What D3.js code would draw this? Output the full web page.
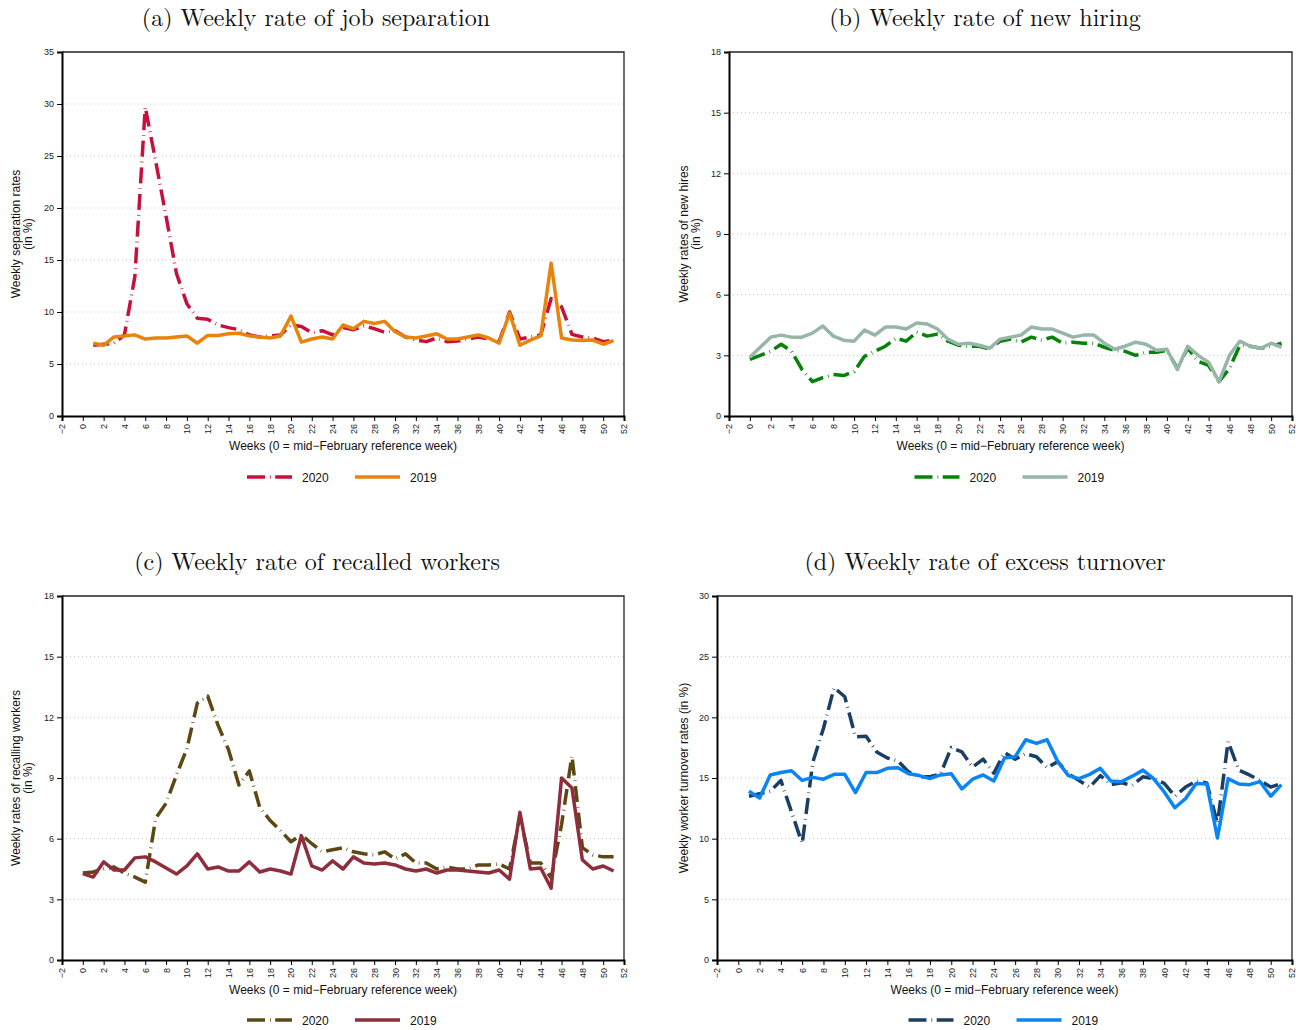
<!DOCTYPE html>
<html>
<head>
<meta charset="utf-8">
<script src="https://cdn.jsdelivr.net/npm/d3@7"></script>
<style>
  html, body { margin: 0; padding: 0; background: #fff; }
  svg { display: block; }
</style>
</head>
<body>
<svg id="chart" width="1302" height="1030"></svg>
<script>
// Weekly labour-market flows, 2020 vs 2019, by week since the mid-February reference week.

const xTickValues = [-2, 0, 2, 4, 6, 8, 10, 12, 14, 16, 18, 20, 22, 24, 26, 28, 30, 32, 34, 36, 38, 40, 42, 44, 46, 48, 50, 52];
const seriesYears = ["2020", "2019"];

// (a) separation rates, weeks 1-51
const sepStart = 1;
const separation2020 = [6.8, 6.9, 7.0, 7.8, 13.4, 29.7, 24.5, 19.2, 13.7, 10.8,
  9.4, 9.3, 8.75, 8.5, 8.3, 7.8, 7.6, 7.7, 7.8, 8.75,
  8.6, 8.0, 8.2, 7.8, 8.5, 8.3, 8.65, 8.4, 8.05, 8.2,
  7.6, 7.3, 7.15, 7.5, 7.15, 7.2, 7.4, 7.6, 7.4, 7.15,
  10.0, 7.4, 7.6, 7.8, 11.3, 10.5, 7.85, 7.6, 7.5, 7.15, 7.3];
const separation2019 = [7.0, 6.8, 7.6, 7.7, 7.8, 7.4, 7.5, 7.5, 7.6, 7.7,
  7.0, 7.75, 7.75, 7.9, 7.95, 7.7, 7.6, 7.5, 7.7, 9.6,
  7.1, 7.4, 7.6, 7.4, 8.75, 8.4, 9.1, 8.9, 9.1, 8.1,
  7.6, 7.5, 7.7, 7.9, 7.4, 7.4, 7.6, 7.8, 7.5, 7.0,
  9.9, 6.8, 7.3, 7.7, 14.7, 7.5, 7.3, 7.25, 7.3, 6.9, 7.25];
const separationTicks = [0, 5, 10, 15, 20, 25, 30, 35];

// (b) new hiring rates, weeks 0-51
const hireStart = 0;
const hiring2020 = [2.8, 3.0, 3.2, 3.55, 3.2, 2.3, 1.7, 1.9, 2.05, 2.0,
  2.2, 2.95, 3.2, 3.45, 3.85, 3.7, 4.15, 3.95, 4.05, 3.7,
  3.5, 3.45, 3.45, 3.3, 3.7, 3.8, 3.65, 3.9, 3.75, 3.9,
  3.6, 3.65, 3.6, 3.6, 3.4, 3.25, 3.2, 3.0, 3.15, 3.15,
  3.25, 2.35, 3.35, 2.7, 2.5, 1.7, 2.35, 3.5, 3.45, 3.35, 3.45, 3.6];
const hiring2019 = [2.9, 3.4, 3.9, 4.0, 3.9, 3.9, 4.1, 4.45, 3.95, 3.75,
  3.7, 4.25, 4.0, 4.4, 4.4, 4.3, 4.6, 4.55, 4.3, 3.8,
  3.55, 3.6, 3.5, 3.35, 3.8, 3.9, 4.0, 4.4, 4.3, 4.3,
  4.1, 3.9, 4.0, 4.0, 3.6, 3.3, 3.45, 3.65, 3.55, 3.25,
  3.3, 2.3, 3.45, 3.0, 2.65, 1.7, 3.0, 3.7, 3.45, 3.35, 3.6, 3.4];
const hiringTicks = [0, 3, 6, 9, 12, 15, 18];

// (c) recall rates, weeks 0-51
const recallStart = 0;
const recall2020 = [4.3, 4.35, 4.5, 4.6, 4.3, 4.1, 3.85, 7.0, 7.75, 9.15,
  10.45, 12.7, 13.05, 11.6, 10.4, 8.65, 9.35, 7.55, 6.9, 6.4,
  5.85, 6.2, 5.75, 5.35, 5.45, 5.55, 5.35, 5.25, 5.2, 5.35,
  5.0, 5.25, 4.8, 4.8, 4.5, 4.6, 4.5, 4.5, 4.7, 4.7,
  4.75, 4.5, 7.1, 4.8, 4.8, 4.05, 6.7, 10.1, 5.55, 5.2, 5.1, 5.1];
const recall2019 = [4.27, 4.1, 4.85, 4.45, 4.45, 5.05, 5.1, 4.85, 4.55, 4.25,
  4.65, 5.25, 4.5, 4.6, 4.4, 4.4, 4.85, 4.35, 4.5, 4.4,
  4.25, 6.15, 4.65, 4.45, 4.9, 4.5, 5.1, 4.8, 4.75, 4.8,
  4.7, 4.5, 4.4, 4.5, 4.3, 4.45, 4.45, 4.4, 4.35, 4.3,
  4.45, 4.0, 7.3, 4.5, 4.55, 3.55, 9.0, 8.5, 4.95, 4.5, 4.65, 4.4];
const recallTicks = [0, 3, 6, 9, 12, 15, 18];

// (d) excess turnover rates, weeks 1-51
const turnStart = 1;
const turnover2020 = [13.5, 13.7, 13.9, 14.8, 12.2, 9.6, 16.3, 19.1, 22.45, 21.7,
  18.4, 18.45, 17.15, 16.65, 16.4, 15.5, 15.1, 15.1, 15.35, 17.5,
  17.15, 15.9, 16.55, 15.4, 17.1, 16.55, 17.0, 16.75, 15.85, 16.35,
  15.35, 14.8, 14.25, 15.2, 14.45, 14.6, 14.4, 15.1, 14.95, 14.55,
  13.5, 14.25, 14.75, 14.6, 11.25, 18.0, 15.65, 15.25, 14.8, 14.25, 14.55];
const turnover2019 = [13.9, 13.35, 15.25, 15.45, 15.6, 14.8, 15.05, 14.9, 15.3, 15.3,
  13.8, 15.45, 15.45, 15.8, 15.85, 15.35, 15.2, 14.95, 15.25, 15.35,
  14.1, 14.9, 15.25, 14.75, 16.65, 16.75, 18.15, 17.85, 18.15, 16.35,
  15.2, 14.95, 15.3, 15.8, 14.75, 14.7, 15.15, 15.65, 14.95, 13.85,
  12.55, 13.3, 14.55, 14.5, 10.05, 14.95, 14.5, 14.45, 14.7, 13.5, 14.45];
const turnoverTicks = [0, 5, 10, 15, 20, 25, 30];

const toPoints = (start, values) => values.map((v, i) => ({ week: start + i, value: v }));

const panels = [
  {
    title: "(a) Weekly rate of job separation", titleX: 316, titleY: 26,
    box: { left: 62, right: 624, top: 52, bottom: 416 },
    yTicks: separationTicks, yLabel: ["Weekly separation rates", "(in %)"], yLabelX: [20, 32],
    series: [toPoints(sepStart, separation2020), toPoints(sepStart, separation2019)],
    colors: ["#c8103c", "#e8830c"], legendY: 477
  },
  {
    title: "(b) Weekly rate of new hiring", titleX: 985, titleY: 26,
    box: { left: 729, right: 1292, top: 52, bottom: 416 },
    yTicks: hiringTicks, yLabel: ["Weekly rates of new hires", "(in %)"], yLabelX: [688, 700],
    series: [toPoints(hireStart, hiring2020), toPoints(hireStart, hiring2019)],
    colors: ["#06820a", "#97b5a9"], legendY: 477
  },
  {
    title: "(c) Weekly rate of recalled workers", titleX: 317, titleY: 570,
    box: { left: 62, right: 624, top: 596, bottom: 960 },
    yTicks: recallTicks, yLabel: ["Weekly rates of recalling workers", "(in %)"], yLabelX: [20, 32],
    series: [toPoints(recallStart, recall2020), toPoints(recallStart, recall2019)],
    colors: ["#5b4812", "#8e2e3c"], legendY: 1020
  },
  {
    title: "(d) Weekly rate of excess turnover", titleX: 985, titleY: 570,
    box: { left: 717, right: 1292, top: 596, bottom: 960 },
    yTicks: turnoverTicks, yLabel: ["Weekly worker turnover rates (in %)"], yLabelX: [688],
    series: [toPoints(turnStart, turnover2020), toPoints(turnStart, turnover2019)],
    colors: ["#1b3f63", "#0b85f5"], legendY: 1020
  }
];

const svg = d3.select("#chart");
const sans = "'Liberation Sans', Arial, Helvetica, sans-serif";
const serif = "'Latin Modern Roman', 'CMU Serif', 'Liberation Serif', 'Times New Roman', serif";
const dash2020 = "16,5,0.7,5";
const lineWidth = 3.5;

panels.forEach(p => {
  const g = svg.append("g");
  const { left, right, top, bottom } = p.box;
  const yMax = p.yTicks[p.yTicks.length - 1];

  const x = d3.scaleLinear().domain([-2, 52]).range([left, right]);
  const y = d3.scaleLinear().domain([0, yMax]).range([bottom, top]);

  // title
  g.append("text")
    .attr("x", p.titleX).attr("y", p.titleY)
    .attr("text-anchor", "middle")
    .attr("font-family", serif)
    .attr("font-size", 24)
    .attr("fill", "#111")
    .text(p.title);

  // dotted horizontal grid
  g.append("g").selectAll("line")
    .data(p.yTicks.filter(t => t > 0 && t < yMax))
    .join("line")
    .attr("x1", left).attr("x2", right)
    .attr("y1", d => y(d)).attr("y2", d => y(d))
    .attr("stroke", "#c8c8c8")
    .attr("stroke-width", 1)
    .attr("stroke-dasharray", "1,3");

  // frame: top and right edges
  g.append("path")
    .attr("d", `M${left},${top}H${right}V${bottom}`)
    .attr("fill", "none")
    .attr("stroke", "#222")
    .attr("stroke-width", 1.3);

  // y axis
  const yAxis = g.append("g")
    .attr("transform", `translate(${left},0)`)
    .call(d3.axisLeft(y).tickValues(p.yTicks).tickSize(5).tickPadding(3).tickFormat(d3.format("d")));
  yAxis.select(".domain").attr("stroke", "#000").attr("stroke-width", 2);
  yAxis.selectAll(".tick line").attr("stroke", "#000").attr("stroke-width", 1);
  yAxis.selectAll(".tick text")
    .attr("font-family", sans).attr("font-size", 9).attr("fill", "#222");

  // x axis with rotated labels
  const xAxis = g.append("g")
    .attr("transform", `translate(0,${bottom})`)
    .call(d3.axisBottom(x).tickValues(xTickValues).tickSize(5).tickFormat(d => d < 0 ? "\u2212" + Math.abs(d) : String(d)));
  xAxis.select(".domain").attr("stroke", "#000").attr("stroke-width", 2);
  xAxis.selectAll(".tick line").attr("stroke", "#000").attr("stroke-width", 1);
  xAxis.selectAll(".tick text")
    .attr("font-family", sans).attr("font-size", 9).attr("fill", "#222")
    .attr("text-anchor", "end")
    .attr("dy", "0.33em")
    .attr("transform", "translate(0,8) rotate(-90)")
    .attr("x", 0).attr("y", 0);

  // x axis title
  g.append("text")
    .attr("x", (left + right) / 2).attr("y", bottom + 34)
    .attr("text-anchor", "middle")
    .attr("font-family", sans).attr("font-size", 12).attr("fill", "#111")
    .text("Weeks (0 = mid\u2212February reference week)");

  // y axis title
  const yMid = (top + bottom) / 2;
  p.yLabel.forEach((txt, i) => {
    g.append("text")
      .attr("transform", `translate(${p.yLabelX[i]},${yMid}) rotate(-90)`)
      .attr("text-anchor", "middle")
      .attr("font-family", sans).attr("font-size", 12).attr("fill", "#111")
      .text(txt);
  });

  // series lines (2020 underneath, 2019 on top)
  const line = d3.line().x(d => x(d.week)).y(d => y(d.value));
  p.series.forEach((pts, i) => {
    g.append("path")
      .datum(pts)
      .attr("d", line)
      .attr("fill", "none")
      .attr("stroke", p.colors[i])
      .attr("stroke-width", lineWidth)
      .attr("stroke-linejoin", "round")
      .attr("stroke-dasharray", i === 0 ? dash2020 : null);
  });

  // legend
  const cx = (left + right) / 2;
  const sampleW = 45, gapText = 10, textW = 29, gapItem = 24;
  const totalW = 2 * (sampleW + gapText + textW) + gapItem;
  let lx = cx - totalW / 2;
  const lg = g.append("g");
  seriesYears.forEach((yr, i) => {
    lg.append("line")
      .attr("x1", lx).attr("x2", lx + sampleW)
      .attr("y1", p.legendY).attr("y2", p.legendY)
      .attr("stroke", p.colors[i])
      .attr("stroke-width", lineWidth)
      .attr("stroke-dasharray", i === 0 ? "18,5,0.7,4.5" : null);
    lg.append("text")
      .attr("x", lx + sampleW + gapText).attr("y", p.legendY + 4.5)
      .attr("font-family", sans).attr("font-size", 12).attr("fill", "#111")
      .text(yr);
    lx += sampleW + gapText + textW + gapItem;
  });
});
</script>
</body>
</html>
